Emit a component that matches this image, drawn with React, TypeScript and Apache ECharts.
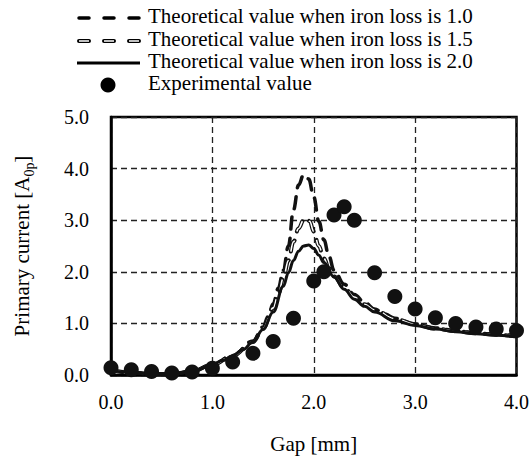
import React, { useEffect, useRef } from "react";
import * as echarts from "echarts";

const FONT = "'Liberation Serif', 'Times New Roman', serif";

// Theoretical value when iron loss is 1.0
const gap10 = [0, 0.2, 0.4, 0.6, 0.8, 1.0, 1.2, 1.4, 1.5, 1.55, 1.6, 1.65, 1.7, 1.75, 1.8, 1.85, 1.9, 1.95, 2.0, 2.05, 2.1, 2.15, 2.2, 2.3, 2.4, 2.5, 2.6, 2.7, 2.8, 3.0, 3.2, 3.4, 3.6, 3.8, 4.0];
const cur10 = [0.09, 0.05, 0.02, 0.02, 0.07, 0.2, 0.38, 0.66, 0.93, 1.13, 1.38, 1.68, 2.03, 2.5, 3.2, 3.68, 3.88, 3.8, 3.45, 2.98, 2.62, 2.3, 2.03, 1.76, 1.56, 1.41, 1.28, 1.18, 1.1, 0.99, 0.91, 0.86, 0.82, 0.79, 0.76];

// Theoretical value when iron loss is 1.5
const gap15 = [0, 0.2, 0.4, 0.6, 0.8, 1.0, 1.2, 1.4, 1.5, 1.6, 1.65, 1.7, 1.75, 1.8, 1.85, 1.9, 1.93, 1.96, 2.0, 2.05, 2.1, 2.15, 2.2, 2.3, 2.4, 2.5, 2.6, 2.8, 3.0, 3.2, 3.4, 3.6, 3.8, 4.0];
const cur15 = [0.09, 0.05, 0.02, 0.02, 0.07, 0.2, 0.37, 0.64, 0.9, 1.3, 1.56, 1.88, 2.22, 2.58, 2.84, 3.0, 3.04, 2.98, 2.78, 2.5, 2.26, 2.07, 1.91, 1.69, 1.51, 1.37, 1.26, 1.09, 0.98, 0.9, 0.85, 0.81, 0.78, 0.75];

// Theoretical value when iron loss is 2.0
const gap20 = [0, 0.2, 0.4, 0.6, 0.8, 1.0, 1.1, 1.2, 1.3, 1.4, 1.5, 1.6, 1.7, 1.75, 1.8, 1.85, 1.9, 1.95, 2.0, 2.05, 2.1, 2.2, 2.3, 2.4, 2.5, 2.6, 2.8, 3.0, 3.2, 3.4, 3.6, 3.8, 4.0];
const cur20 = [0.09, 0.05, 0.02, 0.02, 0.07, 0.2, 0.28, 0.37, 0.49, 0.64, 0.88, 1.22, 1.72, 1.98, 2.22, 2.4, 2.5, 2.52, 2.45, 2.32, 2.18, 1.9, 1.66, 1.47, 1.33, 1.22, 1.05, 0.96, 0.89, 0.84, 0.8, 0.77, 0.74];

// Experimental value
const gapExp = [0, 0.2, 0.4, 0.6, 0.8, 1.0, 1.2, 1.4, 1.6, 1.8, 2.0, 2.1, 2.2, 2.3, 2.4, 2.6, 2.8, 3.0, 3.2, 3.4, 3.6, 3.8, 4.0];
const curExp = [0.14, 0.1, 0.07, 0.04, 0.06, 0.13, 0.25, 0.42, 0.65, 1.1, 1.82, 2.0, 3.1, 3.26, 3.0, 1.98, 1.52, 1.28, 1.11, 1.0, 0.93, 0.89, 0.86];

const legendLabels = [
  "Theoretical value when iron loss is 1.0",
  "Theoretical value when iron loss is 1.5",
  "Theoretical value when iron loss is 2.0",
  "Experimental value",
];

const xTicks = { min: 0, max: 4, interval: 1 };
const yTicks = { min: 0, max: 5, interval: 1 };

const zip = (xs: number[], ys: number[]) => xs.map((x, i) => [x, ys[i]]);

const DASH = [12, 9];

export default function App() {
  const ref = useRef<HTMLDivElement>(null);
  useEffect(() => {
    if (!ref.current) return;
    const chart = echarts.init(ref.current, undefined, { renderer: "svg" });
    const lineCommon = {
      type: "line",
      showSymbol: false,
      symbol: "none",
      smooth: 0.4,
      smoothMonotone: "x",
      silent: true,
    };
    const legendY = [18, 41, 63, 85];
    const textX = 148;
    const graphic: any[] = [
      {
        type: "line",
        shape: { x1: 79, y1: legendY[0], x2: 139, y2: legendY[0] },
        style: { stroke: "#000", lineWidth: 3.5, lineDash: [10, 15], lineCap: "round" },
      },
      {
        type: "line",
        shape: { x1: 79, y1: legendY[1], x2: 139, y2: legendY[1] },
        style: { stroke: "#000", lineWidth: 4, lineDash: [10, 15], lineCap: "round" },
      },
      {
        type: "line",
        shape: { x1: 79, y1: legendY[1], x2: 139, y2: legendY[1] },
        style: { stroke: "#fff", lineWidth: 1.6, lineDash: [10, 15], lineCap: "butt" },
        z: 101,
      },
      {
        type: "line",
        shape: { x1: 77, y1: legendY[2], x2: 140, y2: legendY[2] },
        style: { stroke: "#000", lineWidth: 3 },
      },
      {
        type: "circle",
        shape: { cx: 108, cy: legendY[3], r: 7.5 },
        style: { fill: "#000" },
      },
      ...legendLabels.map((t, i) => ({
        type: "text",
        x: textX,
        y: legendY[i] - 2,
        style: {
          text: t,
          font: `21px ${FONT}`,
          fill: "#000",
          verticalAlign: "middle",
        },
      })),
    ];
    chart.setOption({
      animation: false,
      backgroundColor: "#fff",
      textStyle: { fontFamily: FONT, color: "#000" },
      grid: {
        left: 108,
        top: 117,
        width: 413,
        height: 263,
        show: true,
        borderColor: "#000",
        borderWidth: 2.5,
        backgroundColor: "transparent",
      },
      xAxis: {
        type: "value",
        ...xTicks,
        name: "Gap [mm]",
        nameLocation: "middle",
        nameGap: 58,
        nameTextStyle: { fontFamily: FONT, fontSize: 21, color: "#000" },
        axisLine: { show: true, lineStyle: { color: "#000", width: 2.5 } },
        axisTick: { show: false },
        axisLabel: {
          fontFamily: FONT,
          fontSize: 20,
          color: "#000",
          margin: 17,
          formatter: (v: number) => v.toFixed(1),
        },
        splitLine: { show: true, lineStyle: { color: "#222", width: 1.3, type: [6, 4] } },
      },
      yAxis: {
        type: "value",
        ...yTicks,
        name: "Primary current [A{sub|0p}]",
        nameLocation: "middle",
        nameGap: 75,
        nameTextStyle: {
          fontFamily: FONT,
          fontSize: 21,
          color: "#000",
          lineHeight: 28,
          rich: {
            sub: { fontFamily: FONT, fontSize: 14, verticalAlign: "bottom", color: "#000" },
          },
        },
        axisLine: { show: true, lineStyle: { color: "#000", width: 2.5 } },
        axisTick: { show: false },
        axisLabel: {
          fontFamily: FONT,
          fontSize: 20,
          color: "#000",
          margin: 22,
          formatter: (v: number) => v.toFixed(1),
        },
        splitLine: { show: true, lineStyle: { color: "#222", width: 1.3, type: [6, 4] } },
      },
      graphic,
      series: [
        {
          ...lineCommon,
          name: legendLabels[0],
          data: zip(gap10, cur10),
          lineStyle: { color: "#111", width: 3.5, type: DASH, cap: "round" },
          z: 3,
        },
        {
          ...lineCommon,
          name: legendLabels[1] + " outline",
          data: zip(gap15, cur15),
          lineStyle: { color: "#111", width: 4, type: DASH, cap: "round" },
          z: 4,
        },
        {
          ...lineCommon,
          name: legendLabels[1],
          data: zip(gap15, cur15),
          lineStyle: { color: "#fff", width: 1.6, type: DASH, cap: "butt" },
          z: 5,
        },
        {
          ...lineCommon,
          name: legendLabels[2],
          data: zip(gap20, cur20),
          lineStyle: { color: "#111", width: 3 },
          z: 6,
        },
        {
          type: "scatter",
          name: legendLabels[3],
          data: zip(gapExp, curExp),
          symbol: "circle",
          symbolSize: 15,
          itemStyle: { color: "#111", opacity: 1 },
          z: 10,
        },
      ],
    });
    return () => chart.dispose();
  }, []);
  return (
    <div
      ref={ref}
      style={{ position: "fixed", left: 0, top: 0, width: 532, height: 459 }}
    />
  );
}
